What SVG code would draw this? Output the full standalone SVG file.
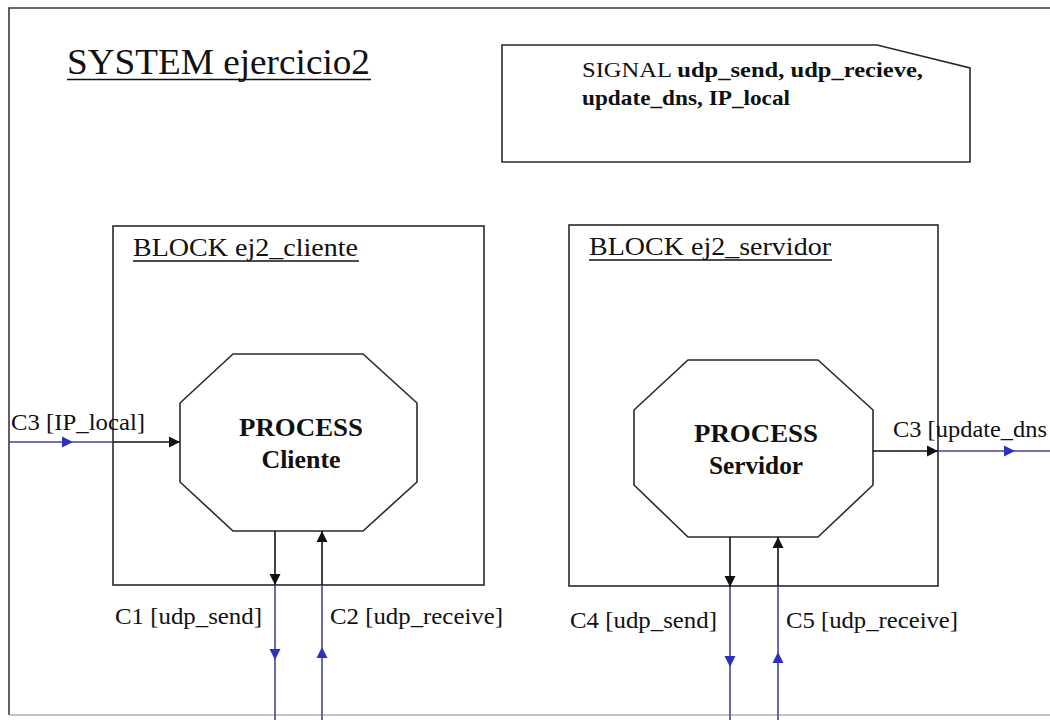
<svg xmlns="http://www.w3.org/2000/svg" width="1050" height="720" viewBox="0 0 1050 720">
<style>
.frame{fill:none;stroke:#3a3a3a;stroke-width:1.6}
.shape{fill:#fff;stroke:#2a2a2a;stroke-width:1.6}
.t{font-family:"Liberation Serif","Times New Roman",serif;fill:#111}
.title{font-size:36px}
.blk{font-size:26px}
.proc{font-size:26px;font-weight:bold;text-anchor:middle}
.lbl{font-size:23px}
.sig{font-size:22px}
.b{font-weight:bold}
.ul{stroke:#111;stroke-width:1.6}
.k{stroke:#111;stroke-width:1.6;fill:none}
.bl{stroke:#45459a;stroke-width:1.6;fill:none}
</style>
<defs>
<marker id="ak" viewBox="0 0 10 10" refX="10" refY="5" markerUnits="userSpaceOnUse" markerWidth="11" markerHeight="12" orient="auto"><path d="M0,0 L10,5 L0,10 z" fill="#111"/></marker>
<marker id="ab" viewBox="0 0 10 10" refX="10" refY="5" markerUnits="userSpaceOnUse" markerWidth="11" markerHeight="12" orient="auto"><path d="M0,0 L10,5 L0,10 z" fill="#3030c0"/></marker>
</defs>
<rect width="1050" height="720" fill="#fff"/>
<g id="frame">
<path class="frame" d="M1050,8 H9 V715"/>
<path d="M9,715 H1050" stroke="#b0b0b0" stroke-width="1.6" fill="none"/>
</g>
<g id="title">
<text class="t title" x="67" y="74" textLength="303" lengthAdjust="spacingAndGlyphs">SYSTEM ejercicio2</text>
<line class="ul" x1="67" y1="79.5" x2="371" y2="79.5"/>
</g>
<g id="signal">
<path class="shape" d="M502,45 H877 L970,68 V162 H502 Z"/>
<text class="t sig" x="582" y="77" textLength="341" lengthAdjust="spacingAndGlyphs">SIGNAL <tspan class="b">udp_send, udp_recieve,</tspan></text>
<text class="t sig b" x="582" y="105" textLength="208" lengthAdjust="spacingAndGlyphs">update_dns, IP_local</text>
</g>
<g id="block_cliente">
<rect class="shape" x="113" y="226" width="371" height="359"/>
<text class="t blk" x="133" y="256" textLength="225" lengthAdjust="spacingAndGlyphs">BLOCK ej2_cliente</text>
<line class="ul" x1="133" y1="261" x2="359" y2="261"/>
</g>
<g id="block_servidor">
<rect class="shape" x="569" y="225" width="369" height="361"/>
<text class="t blk" x="589" y="255" textLength="242" lengthAdjust="spacingAndGlyphs">BLOCK ej2_servidor</text>
<line class="ul" x1="589" y1="260" x2="832" y2="260"/>
</g>
<g id="process_cliente">
<polygon class="shape" points="233,354 363,354 417,403 417,482 363,531 233,531 180,482 180,403"/>
<text class="t proc" x="301" y="436" textLength="124" lengthAdjust="spacingAndGlyphs">PROCESS</text>
<text class="t proc" x="301" y="468" textLength="79" lengthAdjust="spacingAndGlyphs">Cliente</text>
</g>
<g id="process_servidor">
<polygon class="shape" points="688,360 818,360 873,410 873,485 818,537 688,537 634,485 634,410"/>
<text class="t proc" x="756" y="442" textLength="124" lengthAdjust="spacingAndGlyphs">PROCESS</text>
<text class="t proc" x="756" y="474" textLength="94" lengthAdjust="spacingAndGlyphs">Servidor</text>
</g>
<g id="connectors">
<path class="bl" d="M9,442 H73" marker-end="url(#ab)"/>
<path class="bl" d="M73,442 H113"/>
<path class="k" d="M113,442 H180" marker-end="url(#ak)"/>
<text class="t lbl" x="11" y="430" textLength="134" lengthAdjust="spacingAndGlyphs">C3 [IP_local]</text>

<path class="k" d="M275,531 V585" marker-end="url(#ak)"/>
<path class="bl" d="M275,585 V660" marker-end="url(#ab)"/>
<path class="bl" d="M275,660 V720"/>
<text class="t lbl" x="115" y="624" textLength="147" lengthAdjust="spacingAndGlyphs">C1 [udp_send]</text>

<path class="bl" d="M322,720 V647" marker-end="url(#ab)"/>
<path class="bl" d="M322,647 V585"/>
<path class="k" d="M322,585 V531" marker-end="url(#ak)"/>
<text class="t lbl" x="330" y="624" textLength="173" lengthAdjust="spacingAndGlyphs">C2 [udp_receive]</text>

<path class="k" d="M730,537 V587" marker-end="url(#ak)"/>
<path class="bl" d="M730,587 V667" marker-end="url(#ab)"/>
<path class="bl" d="M730,667 V720"/>
<text class="t lbl" x="570" y="628" textLength="147" lengthAdjust="spacingAndGlyphs">C4 [udp_send]</text>

<path class="bl" d="M778,720 V652" marker-end="url(#ab)"/>
<path class="bl" d="M778,652 V586"/>
<path class="k" d="M778,586 V537" marker-end="url(#ak)"/>
<text class="t lbl" x="786" y="628" textLength="172" lengthAdjust="spacingAndGlyphs">C5 [udp_receive]</text>

<path class="k" d="M873,451 H938" marker-end="url(#ak)"/>
<path class="bl" d="M938,451 H1015" marker-end="url(#ab)"/>
<path class="bl" d="M1015,451 H1050"/>
<text class="t lbl" x="893" y="437" textLength="154" lengthAdjust="spacingAndGlyphs">C3 [update_dns</text>
</g>
</svg>
